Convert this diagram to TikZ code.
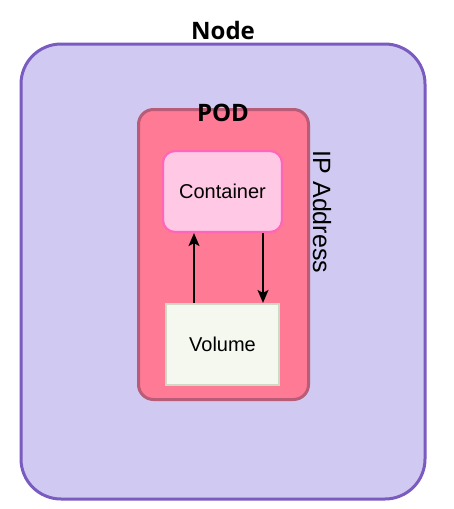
\documentclass[tikz,border=0pt]{standalone}
\usepackage{fontspec}
\setmainfont{Liberation Sans}
\newfontfamily\headfont{Open Sans}
\usetikzlibrary{arrows.meta,positioning}
\definecolor{nodefill}{HTML}{D0C9F1}
\definecolor{nodeline}{HTML}{7A5BC0}
\definecolor{podfill}{HTML}{FF7A95}
\definecolor{podline}{HTML}{B85C78}
\definecolor{contfill}{HTML}{FFC8E5}
\definecolor{contline}{HTML}{FF66B8}
\definecolor{volfill}{HTML}{F5F8EF}
\definecolor{volline}{HTML}{D0D8C6}
\begin{document}
\begin{tikzpicture}[x=1pt, y=-1pt,
	box/.style={draw, inner sep=0, font=\fontsize{20}{22}\selectfont},
	head/.style={font=\headfont\bfseries\fontsize{24}{26}\selectfont, inner sep=0},
	flow/.style={-{Stealth[length=13pt,width=11pt,inset=3pt]}, line width=1.5pt}]
\useasboundingbox (0,0) rectangle (454,509);
\node[box, fill=nodefill, draw=nodeline, line width=3pt, rounded corners=40pt, minimum width=404pt, minimum height=455pt] (node) at (223,271.5) {};
\node[box, fill=podfill, draw=podline, line width=3pt, rounded corners=15pt, minimum width=170pt, minimum height=290pt] (pod) at (223.5,254.5) {};
\node[box, fill=contfill, draw=contline, line width=2.2pt, rounded corners=12pt, minimum width=119pt, minimum height=81pt] (cont) at (222.5,191.5) {Container};
\node[box, fill=volfill, draw=volline, line width=2.2pt, minimum width=113pt, minimum height=81pt] (vol) at (222.5,344.5) {Volume};
\node[head] (nodelabel) at (223,30) {Node};
\node[head] (podlabel) at (223,113) {POD};
\node[font=\fontsize{25}{27}\selectfont, rotate=-90, inner sep=0] (ip) at (322,212) {IP Address};
\draw[flow] ([xshift=-28.5pt]vol.north) -- ([xshift=-28.5pt]vol.north |- cont.south);
\draw[flow] ([xshift=40.5pt]cont.south) -- ([xshift=40.5pt]cont.south |- vol.north);
\end{tikzpicture}
\end{document}
